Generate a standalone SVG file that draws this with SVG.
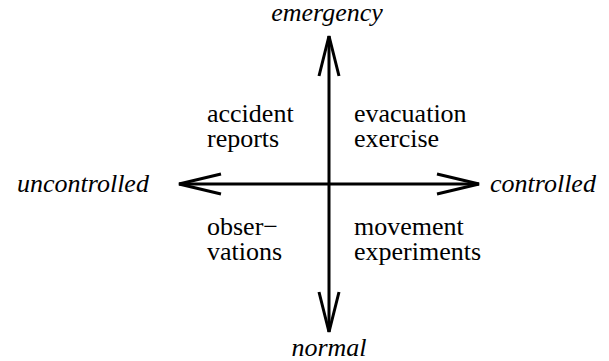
<svg xmlns="http://www.w3.org/2000/svg" width="609" height="361" viewBox="0 0 609 361">
<style>
.ax{stroke:#000;stroke-width:3;fill:none;stroke-linecap:butt}
.ah{stroke:#000;stroke-width:3;fill:none;stroke-linejoin:miter}
text{font-family:'Liberation Serif','Times New Roman',Times,'DejaVu Serif',serif;font-size:26px;fill:#000}
.lab{font-style:italic}
</style>
<rect width="609" height="361" fill="#fff"/>
<g id="connectors">
<line class="ax" x1="329" y1="36" x2="329" y2="332"/>
<line class="ax" x1="179" y1="184" x2="479" y2="184"/>
<polyline class="ah" points="319,76 329,36 339,76"/>
<polyline class="ah" points="319,292 329,332 339,292"/>
<polyline class="ah" points="221,174 179,184 221,194"/>
<polyline class="ah" points="437,174 479,184 437,194"/>
</g>
<g id="emergency"><text class="lab" x="327" y="21" text-anchor="middle">emergency</text></g>
<g id="normal"><text class="lab" x="329" y="356" text-anchor="middle">normal</text></g>
<g id="uncontrolled"><text class="lab" x="17" y="192">uncontrolled</text></g>
<g id="controlled"><text class="lab" x="490" y="192">controlled</text></g>
<g id="accident-reports"><text x="207" y="122">accident</text><text x="207" y="147">reports</text></g>
<g id="evacuation-exercise"><text x="354" y="122">evacuation</text><text x="354" y="147">exercise</text></g>
<g id="observations"><text x="207" y="235">obser−</text><text x="207" y="260">vations</text></g>
<g id="movement-experiments"><text x="354" y="235">movement</text><text x="354" y="260">experiments</text></g>
</svg>
